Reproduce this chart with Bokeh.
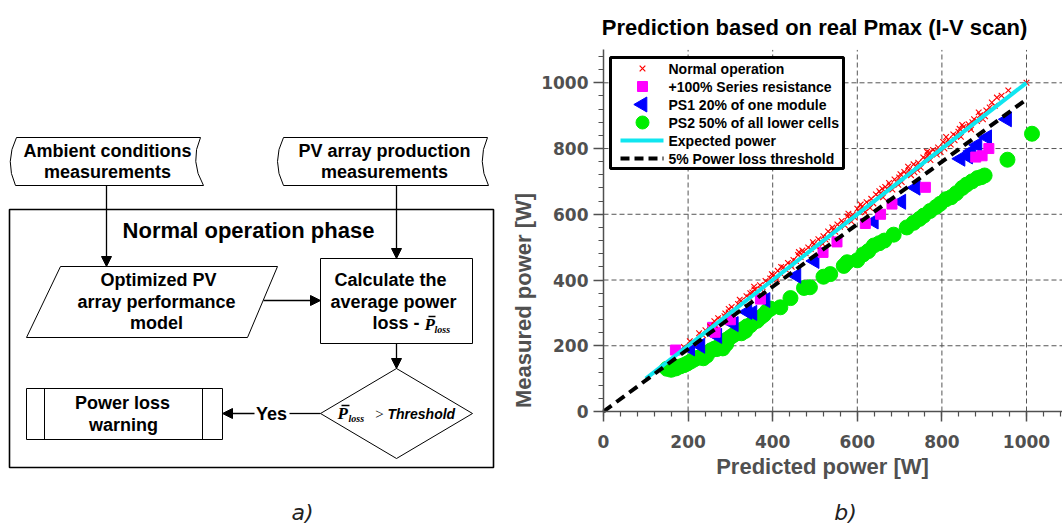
import math
from bokeh.plotting import figure
from bokeh.models import Range1d, Arrow, NormalHead, LinearAxis, SingleIntervalTicker
from bokeh.core.properties import value
from bokeh.embed import file_html
from bokeh.resources import INLINE

# ---------------- data ----------------
title_text = "Prediction based on real Pmax (I-V scan)"
x_label = "Predicted power [W]"
y_label = "Measured power [W]"
legend_labels = ["Normal operation", "+100% Series resistance", "PS1 20% of one module",
                 "PS2 50% of all lower cells", "Expected power", "5% Power loss threshold"]
grid_vals = [200, 400, 600, 800, 1000]

norm_pts = [(190, 196), (204, 214), (213, 208), (226, 238), (235, 232), (241, 247), (252, 259),
            (262, 275), (263, 262), (271, 284), (279, 281), (286, 290), (288, 298), (296, 301),
            (303, 318), (311, 309), (318, 327), (322, 340), (325, 336), (331, 330), (338, 351),
            (344, 347), (347, 360), (352, 362), (357, 371), (363, 366), (370, 384), (372, 372),
            (376, 379), (383, 397), (389, 392), (394, 405), (398, 418), (401, 414), (407, 409),
            (412, 428), (418, 421), (420, 440), (425, 438), (431, 432), (436, 452), (443, 447),
            (445, 440), (449, 461), (455, 458), (460, 476), (466, 470), (470, 490), (473, 486),
            (478, 481), (484, 499), (490, 494), (495, 515), (497, 508), (502, 503), (508, 524),
            (514, 517), (518, 510), (520, 533), (525, 523), (531, 548), (537, 541), (541, 560),
            (543, 552), (548, 547), (553, 569), (559, 562), (563, 580), (566, 575), (571, 566),
            (577, 593), (583, 588), (586, 578), (589, 599), (594, 590), (600, 617), (604, 609),
            (608, 630), (611, 623), (616, 612), (622, 637), (627, 631), (630, 620), (633, 647),
            (638, 633), (644, 660), (649, 655), (652, 670), (655, 664), (661, 652), (666, 683),
            (671, 677), (675, 695), (677, 688), (683, 675), (688, 706), (693, 699), (697, 690),
            (699, 712), (705, 698), (711, 729), (716, 722), (720, 745), (722, 735), (727, 719),
            (733, 752), (739, 745), (742, 735), (744, 757), (750, 742), (756, 773), (761, 768),
            (765, 790), (767, 780), (773, 765), (779, 796), (785, 790), (788, 782), (791, 803),
            (797, 789), (803, 820), (809, 814), (810, 835), (815, 827), (821, 812), (827, 843),
            (830, 825), (833, 838), (839, 851), (845, 836), (848, 872), (851, 866), (857, 860),
            (863, 874), (866, 865), (869, 858), (876, 889), (883, 884), (887, 910), (890, 901),
            (897, 889), (902, 898), (905, 916), (913, 925), (918, 940), (925, 930), (930, 955),
            (941, 961), (957, 977), (1000, 1000),
            (296, 312), (356, 380), (410, 402), (462, 485), (528, 530), (579, 602), (618, 606),
            (659, 678), (702, 722), (735, 728), (770, 788), (806, 800), (842, 860), (872, 880)]

sr_pts = [(170, 187), (258, 256), (264, 241), (300, 279), (371, 342), (519, 484), (552, 516),
          (619, 572), (655, 600), (682, 631), (761, 682), (880, 774), (895, 778), (911, 800)]

ps1_pts = [(205, 192), (229, 200), (269, 230), (308, 266), (340, 303), (352, 300), (383, 339),
           (456, 413), (499, 458), (639, 578), (704, 638), (738, 681), (844, 769), (862, 776),
           (870, 792), (884, 811), (907, 834), (954, 889)]

ps2_pts = [(150, 130), (160, 127), (171, 131), (181, 137), (190, 141), (198, 146), (206, 152),
           (214, 158), (222, 163), (229, 166), (236, 162), (238, 174), (244, 170), (246, 179),
           (254, 186), (262, 191), (268, 190), (276, 203), (282, 192), (284, 210), (290, 205),
           (292, 219), (300, 226), (308, 233), (316, 240), (323, 247), (326, 238), (331, 251),
           (335, 245), (339, 259), (347, 262), (355, 272), (363, 276), (371, 286), (379, 294),
           (387, 306), (395, 313), (418, 317), (442, 345), (474, 376), (488, 378), (520, 410),
           (536, 418), (568, 443), (576, 454), (600, 460), (614, 478), (626, 488), (639, 505),
           (652, 512), (664, 520), (686, 538), (717, 560), (733, 574), (747, 586), (757, 596),
           (772, 610), (786, 622), (796, 632), (810, 646), (822, 652), (834, 664), (848, 680),
           (858, 690), (871, 700), (884, 710), (893, 713), (901, 718), (955, 766), (1013, 845)]

expected_x = [100, 1000]
expected_y = [100, 1000]
threshold_x = [0, 995]
threshold_y = [0, 945]

norm_x = [a for a, b in norm_pts]; norm_y = [b for a, b in norm_pts]
sr_x = [a for a, b in sr_pts]; sr_y = [b for a, b in sr_pts]
ps1_x = [a for a, b in ps1_pts]; ps1_y = [b for a, b in ps1_pts]
ps2_x = [a for a, b in ps2_pts]; ps2_y = [b for a, b in ps2_pts]

# ---------------- one canvas: page-pixel ranges + data ranges for the scatter plot ----------------
W, H = 1062, 527
ORG_X, ORG_Y = 603, 411          # page position of the (0, 0) data point
KX, KY = 0.423, 0.3287           # pixels per watt
X_MAX, Y_MAX = 1085, 1100

p = figure(width=W, height=H, output_backend="svg", toolbar_location=None,
           x_range=Range1d(0, W), y_range=Range1d(H, 0),
           x_axis_type=None, y_axis_type=None, min_border=0)
p.outline_line_color = None
p.background_fill_color = "white"
p.border_fill_color = "white"
p.extra_x_ranges = {"pw": Range1d(-ORG_X / KX, (W - ORG_X) / KX)}
p.extra_y_ranges = {"mw": Range1d(-(H - ORG_Y) / KY, ORG_Y / KY)}
D = dict(x_range_name="pw", y_range_name="mw")

AX_COL = "#505050"
for side, bnd, standoff in (("below", (0, X_MAX), 13), ("left", (0, Y_MAX), 5)):
    ax = LinearAxis(fixed_location=0, bounds=bnd,
                    ticker=SingleIntervalTicker(interval=200, num_minor_ticks=5), **D)
    ax.major_tick_out = 10
    ax.major_tick_in = 0
    ax.minor_tick_out = 5
    ax.minor_tick_in = 0
    ax.axis_line_color = AX_COL
    ax.axis_line_width = 1.5
    ax.major_tick_line_color = AX_COL
    ax.major_tick_line_width = 1.5
    ax.minor_tick_line_color = AX_COL
    ax.minor_tick_line_width = 1.2
    ax.major_label_text_font = "DejaVu Sans"
    ax.major_label_text_font_style = "bold"
    ax.major_label_text_font_size = "17px"
    ax.major_label_text_color = AX_COL
    ax.major_label_standoff = standoff
    p.add_layout(ax, side)

# dashed grid at the major ticks
p.segment(x0=grid_vals, y0=[0] * 5, x1=grid_vals, y1=[Y_MAX] * 5, line_color="#555555",
          line_dash="5 3", line_width=1, **D)
p.segment(x0=[0] * 5, y0=grid_vals, x1=[X_MAX] * 5, y1=grid_vals, line_color="#555555",
          line_dash="5 3", line_width=1, **D)

# data
p.scatter(ps2_x, ps2_y, marker="circle", size=15, fill_color="#00ee00", line_color="#00ee00", **D)
p.scatter(ps1_x, ps1_y, marker="triangle", size=15, angle=math.pi / 2,
          fill_color="#0000ff", line_color="#0000ff", **D)
p.scatter(sr_x, sr_y, marker="square", size=10, fill_color="#ff00ff", line_color="#ff00ff", **D)
p.scatter(norm_x, norm_y, marker="x", size=8, line_color="#ff0000", line_width=1.1, **D)
p.line(expected_x, expected_y, line_color="#10e6f0", line_width=4, **D)
p.line(threshold_x, threshold_y, line_color="black", line_width=4, line_dash="10 6", **D)

# legend (page pixels)
p.quad(left=[610], right=[843], top=[57], bottom=[168], fill_color="white", line_color="black",
       line_width=3)
row_y = [68 + 18 * i for i in range(6)]
p.scatter([642], [row_y[0]], marker="x", size=8, line_color="#ff0000", line_width=1.2)
p.scatter([642], [row_y[1]], marker="square", size=10, fill_color="#ff00ff", line_color="#ff00ff")
p.scatter([642], [row_y[2]], marker="triangle", size=15, angle=math.pi / 2,
          fill_color="#0000ff", line_color="#0000ff")
p.scatter([642], [row_y[3]], marker="circle", size=13, fill_color="#00ee00", line_color="#00ee00")
p.segment(x0=[620], y0=[row_y[4]], x1=[663], y1=[row_y[4]], line_color="#10e6f0", line_width=4)
p.segment(x0=[620], y0=[row_y[5]], x1=[663], y1=[row_y[5]], line_color="black",
          line_width=4, line_dash="9 5")
p.text(x=[668] * 6, y=row_y, text=legend_labels, text_font=value("Liberation Sans"),
       text_font_style="bold", text_font_size="14px", text_baseline="middle", text_align="left",
       text_color="black")

# titles (y = visual centre of the text)
p.text(x=[814], y=[27], text=[title_text], text_font=value("Liberation Sans"),
       text_font_style="bold", text_font_size="22px", text_align="center",
       text_baseline="middle", text_color="black")
p.text(x=[822], y=[466], text=[x_label], text_font=value("Liberation Sans"),
       text_font_style="bold", text_font_size="22px", text_align="center",
       text_baseline="middle", text_color=AX_COL)
p.text(x=[523], y=[300], text=[y_label], text_font=value("Liberation Sans"),
       text_font_style="bold", text_font_size="22px", text_align="center",
       text_baseline="middle", angle=math.pi / 2, text_color=AX_COL)
p.text(x=[302, 845], y=[512, 512], text=["a)", "b)"], text_font=value("DejaVu Sans"),
       text_font_style="italic", text_font_size="22px", text_align="center",
       text_baseline="middle", text_color="#222222")

# ---------------- flowchart (page pixels) ----------------
LC = "black"
p.quad(left=[9], right=[493], top=[209], bottom=[467], fill_color=None, line_color=LC, line_width=1.6)

inputs = [(16, 200, 203, 15), (283, 487, 488, 283)]
for (xl_top, xr_top, xr_bot, xl_bot) in inputs:
    p.segment(x0=[xl_top, xl_bot], y0=[137, 185], x1=[xr_top, xr_bot], y1=[137, 185],
              line_color=LC, line_width=1)
    p.quadratic(x0=[xl_top, xr_top], y0=[137, 137], x1=[xl_bot, xr_bot], y1=[185, 185],
                cx=[xl_top - 12, xr_top - 11], cy=[161, 161], line_color=LC, line_width=1)

p.patch([60, 277, 247, 26], [266, 266, 337, 337], fill_color=None, line_color=LC, line_width=1)
p.quad(left=[320], right=[472], top=[258], bottom=[343], fill_color=None, line_color=LC, line_width=1)
p.patch([396, 472, 396, 320], [368, 413, 458, 413], fill_color=None, line_color=LC, line_width=1)
p.quad(left=[26], right=[222], top=[388], bottom=[439], fill_color=None, line_color=LC, line_width=1)
p.segment(x0=[44, 202], y0=[388, 388], x1=[44, 202], y1=[439, 439], line_color=LC, line_width=1)

arrows = [((106, 185), (106, 266)), ((396, 185), (396, 258)), ((263, 300), (320, 300)),
          ((396, 343), (396, 368)), ((254, 413), (222, 413))]
for (s, e) in arrows:
    p.add_layout(Arrow(end=NormalHead(size=10, fill_color=LC, line_color=LC),
                       x_start=s[0], y_start=s[1], x_end=e[0], y_end=e[1],
                       line_color=LC, line_width=1.3))
p.segment(x0=[320], y0=[413], x1=[289], y1=[413], line_color=LC, line_width=1.3)

fc_texts = [("Ambient conditions", 107, 150), ("measurements", 107, 171),
            ("PV array production", 384, 150), ("measurements", 384, 171),
            ("Optimized PV", 158, 279), ("array performance", 156, 301), ("model", 156, 322),
            ("Calculate the", 390, 279), ("average power", 393, 301),
            ("Power loss", 122, 402), ("warning", 123, 424), ("Yes", 271, 413)]
p.text(x=[t[1] for t in fc_texts], y=[t[2] for t in fc_texts], text=[t[0] for t in fc_texts],
       text_font=value("Liberation Sans"), text_font_style="bold", text_font_size="18px",
       text_align="center", text_baseline="middle", text_color=LC)
p.text(x=[248], y=[230], text=["Normal operation phase"], text_font=value("Liberation Sans"),
       text_font_style="bold", text_font_size="22px", text_align="center",
       text_baseline="middle", text_color=LC)
p.text(x=[372], y=[322], text=["loss -"], text_font=value("Liberation Sans"),
       text_font_style="bold", text_font_size="18px", text_align="left",
       text_baseline="middle", text_color=LC)
p.text(x=[424, 337], y=[324, 413], text=["P", "P"], text_font=value("Liberation Serif"),
       text_font_style="bold italic", text_font_size="17px", text_align="left",
       text_baseline="middle", text_color=LC)
p.segment(x0=[428, 341], y0=[316, 405], x1=[435, 349], y1=[316, 405], line_color=LC, line_width=1.5)
p.text(x=[434, 348], y=[329, 418], text=["loss", "loss"], text_font=value("Liberation Serif"),
       text_font_style="bold italic", text_font_size="10px", text_align="left",
       text_baseline="middle", text_color=LC)
p.text(x=[379], y=[413], text=[">"], text_font=value("Liberation Serif"),
       text_font_size="15px", text_align="center", text_baseline="middle", text_color=LC)
p.text(x=[387], y=[413], text=["Threshold"], text_font=value("Liberation Sans"),
       text_font_style="bold italic", text_font_size="14px", text_align="left",
       text_baseline="middle", text_color=LC)

open("out.html", "w").write(file_html(p, INLINE))
